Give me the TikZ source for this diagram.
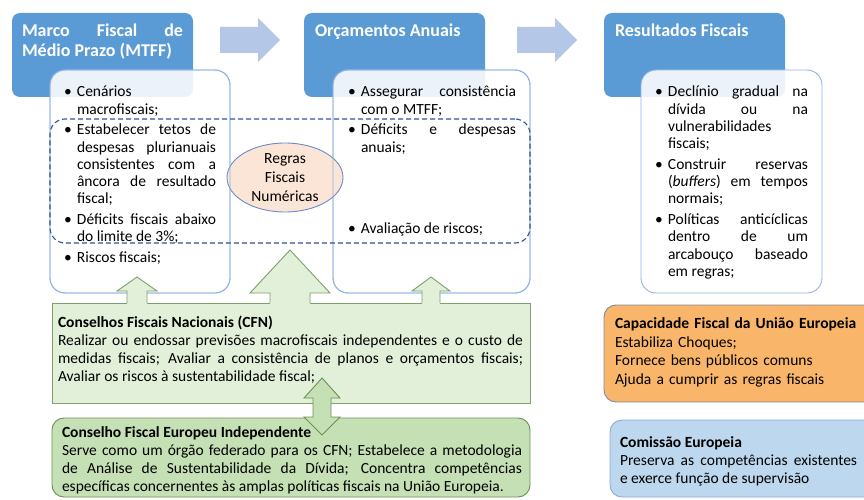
\documentclass[tikz,border=0pt]{standalone}
\usepackage{fontspec}
\setmainfont{Carlito}
\usetikzlibrary{shapes.geometric}
\definecolor{headblue}{HTML}{5B9BD5}
\definecolor{arrowblue}{HTML}{B4C7E7}
\definecolor{bodyline}{HTML}{8FB4E3}
\definecolor{dashblue}{HTML}{2F5597}
\definecolor{peach}{HTML}{FBE5D6}
\definecolor{peachline}{HTML}{6A8CC7}
\definecolor{cfnfill}{HTML}{E2F0D9}
\definecolor{cfnline}{HTML}{7F9F6A}
\definecolor{cfeifill}{HTML}{C5E0B4}
\definecolor{cfeiline}{HTML}{6E8F58}
\definecolor{capfill}{HTML}{F9B66A}
\definecolor{capline}{HTML}{7D8BA0}
\definecolor{comfill}{HTML}{BDD7EE}
\definecolor{comline}{HTML}{8FA9D2}
\newcommand{\bul}{\noindent\hangindent=13pt\hangafter=1\makebox[13pt][l]{\textbullet}\strut}
\tikzset{%
  every node/.append style={inner sep=0pt, outer sep=0pt},
  head box/.style={anchor=north west, fill=headblue, rounded corners=8pt,
    minimum width=181pt, minimum height=84pt},
  body box/.style={anchor=north west, draw=bodyline, line width=0.9pt,
    fill=white, fill opacity=0.88, rounded corners=15pt, minimum height=223pt},
  body line/.style={draw=bodyline, line width=0.9pt, rounded corners=15pt},
  rule frame/.style={anchor=north west, draw=dashblue, line width=1.1pt,
    dash pattern=on 5pt off 3pt, rounded corners=15pt},
  rule ellipse/.style={ellipse, draw=peachline, fill=peach, line width=0.9pt,
    minimum width=116pt, minimum height=69pt},
  head text/.style={anchor=north west, text=white, align=justify,
    font=\fontsize{18}{20}\selectfont\bfseries},
  body text/.style={anchor=north west, align=justify,
    font=\fontsize{15.5}{17.3}\selectfont,
    execute at begin node={\setlength{\parskip}{3.2pt}}},
  box text/.style={anchor=north west, align=justify,
    font=\fontsize{15.5}{18}\selectfont},
}
\begin{document}
\begin{tikzpicture}[x=1pt,y=-1pt]
\useasboundingbox (0,0) rectangle (864,500);

% flow arrows between the headers
\foreach \ax in {220,517}
  \fill[arrowblue] (\ax,27) -- (\ax+38,27) -- (\ax+38,18) -- (\ax+60,40)
    -- (\ax+38,62) -- (\ax+38,53) -- (\ax,53) -- cycle;

% headers
\node[head box] (mtffhead) at (12,13) {};
\node[head box] (orchead) at (304,13) {};
\node[head box] (reshead) at (604,13) {};
\node[head text, text width=161pt] (mtfftitle) at (22,23)
  {\strut Marco Fiscal de\linebreak Médio Prazo (MTFF)\par};
\node[head text, text width=165pt] (orctitle) at (315,23) {\strut Orçamentos Anuais};
\node[head text, text width=165pt] (restitle) at (615,23) {\strut Resultados Fiscais};

% content boxes
\node[body box, minimum width=180pt] (mtffbody) at (50,70) {};
\node[body box, minimum width=197pt] (orcbody) at (333,70) {};
\node[body box, minimum width=181pt] (resbody) at (641,70) {};
\node[rule ellipse] (regras) at (285,177.5) {};
\foreach \b in {mtffbody,orcbody}
  \draw[body line] (\b.north west) rectangle (\b.south east);
\node[rule frame, minimum width=480pt, minimum height=124pt] (regrasframe) at (50,119) {};
\node[align=center, font=\fontsize{15.5}{19}\selectfont] (regrastext) at (regras.center)
  {Regras\\Fiscais\\Numéricas};

\node[body text, text width=152pt] (mtfftext) at (64,84.8) {%
  \bul Cenários\linebreak macrofiscais;\par
  \bul Estabelecer tetos de\linebreak despesas plurianuais\linebreak consistentes com a\linebreak âncora de resultado\linebreak fiscal;\par
  \bul Déficits fiscais abaixo\linebreak do limite de 3\%;\par
  \bul Riscos fiscais;\par};
\node[body text, text width=168pt] (orctext) at (348,84.8) {%
  \bul Assegurar consistência\linebreak com o MTFF;\par
  \bul Déficits e despesas\linebreak anuais;\par
  \vspace{60.5pt}
  \bul Avaliação de riscos;\par};
\node[body text, text width=153pt] (restext) at (655,84.8) {%
  \bul Declínio gradual na\linebreak dívida ou na\linebreak vulnerabilidades\linebreak fiscais;\par
  \bul Construir reservas\linebreak (\textit{buffers}) em tempos\linebreak normais;\par
  \bul Políticas anticíclicas\linebreak dentro de um\linebreak arcabouço baseado\linebreak em regras;\par};

% national councils
\node[anchor=north west, fill=cfnfill, draw=cfnline, line width=0.9pt,
  minimum width=478pt, minimum height=100pt] (cfn) at (52,303) {};
\node[box text, text width=465pt] (cfntext) at (58,314.4) {%
  \textbf{\strut Conselhos Fiscais Nacionais (CFN)}\par
  Realizar ou endossar previsões macrofiscais independentes e o custo de\linebreak
  medidas fiscais; Avaliar a consistência de planos e orçamentos fiscais;\linebreak
  Avaliar os riscos à sustentabilidade fiscal;\par};
\foreach \cx/\sh/\hh/\ty/\by in {137/10/20/277/291, 290/20/40/250/293, 431/9/19/277/291}{
  \fill[cfnfill] (\cx-\sh,304) -- (\cx-\sh,\by) -- (\cx-\hh,\by) -- (\cx,\ty)
    -- (\cx+\hh,\by) -- (\cx+\sh,\by) -- (\cx+\sh,304) -- cycle;
  \draw[cfnline, line width=0.9pt] (\cx-\sh,303) -- (\cx-\sh,\by) -- (\cx-\hh,\by)
    -- (\cx,\ty) -- (\cx+\hh,\by) -- (\cx+\sh,\by) -- (\cx+\sh,303);
}

% european council
\node[anchor=north west, fill=cfeifill, draw=cfeiline, line width=0.9pt, rounded corners=12pt,
  minimum width=478pt, minimum height=79pt] (cfei) at (52,418) {};
\node[box text, text width=460pt] (cfeitext) at (62,424.4) {%
  \textbf{\strut Conselho Fiscal Europeu Independente}\par
  Serve como um órgão federado para os CFN; Estabelece a metodologia\linebreak
  de Análise de Sustentabilidade da Dívida; Concentra competências\linebreak
  específicas concernentes às amplas políticas fiscais na União Europeia.\par};
\draw[fill=cfeifill, draw=cfeiline, line width=0.9pt] (322,378) -- (340,398) -- (331,398)
  -- (331,417) -- (340,417) -- (322,435) -- (304,417) -- (313,417) -- (313,398)
  -- (304,398) -- cycle;

% right column
\node[anchor=north west, fill=capfill, draw=capline, line width=0.9pt, rounded corners=12pt,
  minimum width=280pt, minimum height=97pt] (capue) at (604,305) {};
\node[box text, align=left, text width=245pt, font=\fontsize{15.5}{18.5}\selectfont]
  (captext) at (615,316) {%
  \textbf{\strut Capacidade Fiscal da União Europeia}\\
  Estabiliza Choques;\\
  Fornece bens públicos comuns\\
  Ajuda a cumprir as regras fiscais};
\node[anchor=north west, fill=comfill, draw=comline, line width=0.9pt, rounded corners=12pt,
  minimum width=280pt, minimum height=77pt] (comeu) at (610,420) {};
\node[box text, text width=237pt] (comtext) at (620,434.4) {%
  \textbf{\strut Comissão Europeia}\par
  Preserva as competências existentes\linebreak e exerce função de supervisão\par};
\end{tikzpicture}
\end{document}
